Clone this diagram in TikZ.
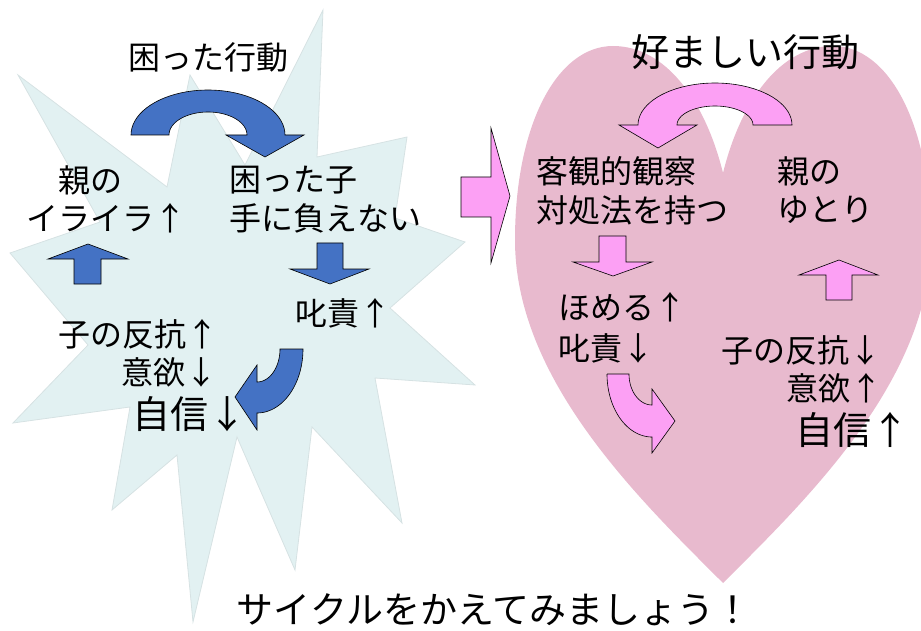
\documentclass[tikz,border=0pt]{standalone}
\usepackage{fontspec}
\setmainfont{Noto Sans CJK JP}
\definecolor{starfill}{RGB}{226,241,242}
\definecolor{staredge}{RGB}{214,226,227}
\definecolor{heartfill}{RGB}{232,186,206}
\definecolor{arrowpink}{RGB}{252,160,244}
\definecolor{arrowblue}{RGB}{68,114,196}
\begin{document}
\begin{tikzpicture}[x=1pt,y=-1pt,
  lbl/.style={inner sep=0pt, font=\fontsize{32}{38}\selectfont},
  biglbl/.style={inner sep=0pt, font=\fontsize{38}{44}\selectfont},
  title/.style={inner sep=0pt, font=\fontsize{38}{44}\selectfont},
  bluearrow/.style={fill=arrowblue, draw=black, line width=0.6pt, line join=miter},
  pinkarrow/.style={fill=arrowpink, draw=black, line width=0.6pt, line join=miter},
  crv/.style={samples=40, variable=\t}]
\useasboundingbox (0,0) rectangle (921,631);
\clip (0,0) rectangle (921,631);
% star
\filldraw[fill=starfill, draw=staredge, line width=0.8pt]
  (323,10) -- (317,157) -- (407,137) -- (395,218) -- (465,242) -- (390,308)
  -- (475,385) -- (375,378) -- (402,523) -- (312,427) -- (295,570) -- (237,437)
  -- (193,622) -- (177,455) -- (112,510) -- (130,407) -- (13,423) -- (88,345)
  -- (10,253) -- (100,222) -- (18,75) -- (167,187) -- (190,75) -- (245,165) -- cycle;
% heart
\fill[heartfill] (723,583) .. controls (640,500) and (515,380) .. (515,240)
  .. controls (515,125) and (557,46) .. (613,46)
  .. controls (665,46) and (705,100) .. (723,173)
  .. controls (741,100) and (781,46) .. (833,46)
  .. controls (889,46) and (931,125) .. (931,240)
  .. controls (931,380) and (806,500) .. (723,583) -- cycle;
% blue arrows
\draw[bluearrow] (131,135) -- plot[crv, domain=180:0] ({208+77*cos(\t)},{135-45*sin(\t)})
  -- (304,135) -- (265,157) -- (226,135)
  -- plot[crv, domain=0:180] ({208+39*cos(\t)},{135-23*sin(\t)}) -- cycle;
\draw[bluearrow] (317,243) -- (343,243) -- (343,269) -- (369,269) -- (330,284)
  -- (290,269) -- (317,269) -- cycle;
\draw[bluearrow] (280,349) -- (303,349)
  -- plot[crv, domain=0:90] ({257+46*cos(\t)},{349+64*sin(\t)})
  -- (257,430) -- (235,397) -- (257,365)
  -- plot[crv, domain=90:0] ({257+23*cos(\t)},{349+33*sin(\t)}) -- cycle;
\draw[bluearrow] (74,284) -- (74,259) -- (48,259) -- (88,244) -- (128,259)
  -- (101,259) -- (101,284) -- cycle;
% pink arrows
\draw[pinkarrow] (461,177) -- (491,177) -- (491,128) -- (510,196) -- (491,263)
  -- (491,217) -- (461,217) -- cycle;
\draw[pinkarrow] (792,125) -- plot[crv, domain=0:180] ({715+77*cos(\t)},{125-42*sin(\t)})
  -- (619,125) -- (658,148) -- (697,125)
  -- plot[crv, domain=180:0] ({715+38*cos(\t)},{125-19*sin(\t)}) -- cycle;
\draw[pinkarrow] (599,236) -- (626,236) -- (626,262) -- (652,262) -- (613,276)
  -- (573,262) -- (599,262) -- cycle;
\draw[pinkarrow] (607,374) -- (629,374)
  -- plot[crv, domain=180:90] ({652+23*cos(\t)},{374+31*sin(\t)})
  -- (652,389) -- (675,421) -- (652,453) -- (652,437)
  -- plot[crv, domain=90:180] ({652+45*cos(\t)},{374+63*sin(\t)}) -- cycle;
\draw[pinkarrow] (826,300) -- (826,275) -- (799,275) -- (839,260) -- (878,275)
  -- (852,275) -- (852,300) -- cycle;
% left texts
\node[lbl] (badact) at (208,57) {困った行動};
\node[lbl] (oya1) at (90,180) {親の};
\node[lbl] (irai) at (107,218) {イライラ↑};
\node[lbl] (komako) at (293,180) {困った子};
\node[lbl] (tenioe) at (325,218) {手に負えない};
\node[lbl] (shiseki1) at (343,313) {叱責↑};
\node[lbl, anchor=east] (hanko1) at (219,334) {子の反抗↑};
\node[lbl, anchor=east] (iyoku1) at (218,372) {意欲↓};
\node[biglbl, anchor=east] (jishin1) at (247,414) {自信↓};
% right texts
\node[title] (goodact) at (745,52) {好ましい行動};
\node[lbl] (kyakkan) at (616,171) {客観的観察};
\node[lbl] (taisho) at (632,210) {対処法を持つ};
\node[lbl] (oya2) at (809,171) {親の};
\node[lbl] (yutori) at (825,210) {ゆとり};
\node[lbl] (homeru) at (622,307) {ほめる↑};
\node[lbl] (shiseki2) at (606,348) {叱責↓};
\node[lbl, anchor=east] (hanko2) at (882,350) {子の反抗↓};
\node[lbl, anchor=east] (iyoku2) at (883,388) {意欲↑};
\node[biglbl, anchor=east] (jishin2) at (910,430) {自信↑};
% bottom
\node[inner sep=0pt, font=\fontsize{37}{43}\selectfont] (cycle) at (494,610) {サイクルをかえてみましょう！};
\end{tikzpicture}
\end{document}
